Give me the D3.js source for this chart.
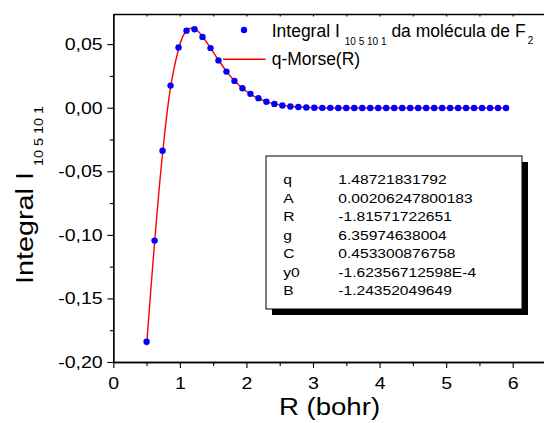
<!DOCTYPE html>
<html><head><meta charset="utf-8">
<script src="https://cdn.jsdelivr.net/npm/d3@7"></script>
<style>body{margin:0;background:#fff} svg{display:block;font-family:"Liberation Sans",Arial,sans-serif}</style>
</head><body>
<svg id="c" width="544" height="423"></svg>
<script>
// ---- data ----
const rValues = [0.50,0.62,0.74,0.86,0.98,1.10,1.22,1.34,1.46,1.58,1.70,1.82,1.94,2.06,2.18,2.30,2.42,2.54,2.66,2.78,2.90,3.02,3.14,3.26,3.38,3.50,3.62,3.74,3.86,3.98,4.10,4.22,4.34,4.46,4.58,4.70,4.82,4.94,5.06,5.18,5.30,5.42,5.54,5.66,5.78,5.90];
const integralValues = [-0.1840,-0.1045,-0.0339,0.0174,0.0473,0.0606,0.0617,0.0557,0.0469,0.0372,0.0284,0.0211,0.0153,0.0109,0.0075,0.0047,0.0030,0.0017,0.0009,0.0005,0.0002,0.0000,-0.0001,-0.0001,-0.0002,-0.0002,-0.0002,-0.0002,-0.0002,-0.0002,-0.0002,-0.0002,-0.0002,-0.0002,-0.0002,-0.0002,-0.0002,-0.0002,-0.0002,-0.0002,-0.0002,-0.0002,-0.0002,-0.0002,-0.0002,-0.0002];
const fitR = [0.50,0.62,0.74,0.86,0.98,1.04,1.10,1.16,1.22,1.28,1.34,1.46,1.58,1.70,1.82,1.94,2.06,2.18,2.30,2.42,2.54,2.66,2.78,3.02,3.50,5.90];
const fitI = [-0.1870,-0.1060,-0.0360,0.0160,0.0460,0.0555,0.0605,0.0625,0.0622,0.0598,0.0560,0.0470,0.0375,0.0286,0.0212,0.0153,0.0107,0.0073,0.0048,0.0030,0.0018,0.0010,0.0005,0.0000,-0.0002,-0.0002];
const xTicks = [0,1,2,3,4,5,6];
const yTicks = [-0.20,-0.15,-0.10,-0.05,0.00,0.05];
const paramNames = ["q","A","R","g","C","y0","B"];
const paramValues = ["1.48721831792","0.00206247800183","-1.81571722651","6.35974638004","0.453300876758","-1.62356712598E-4","-1.24352049649"];

// ---- chart ----
const svg = d3.select("#c");
const L = 113.3, T = 14, B = 362, Rr = 546;
const x = d3.scaleLinear().domain([0, 6.5]).range([L, Rr]);
const y = d3.scaleLinear().domain([-0.2, 0.0737]).range([B, T]);
const fmt = v => (v < -1e-9 ? "-" : "") + Math.abs(v).toFixed(2).replace(".", ",");

// minor ticks
const xMinor = d3.range(0.5, 6.5, 1);
const yMinor = [-0.175,-0.125,-0.075,-0.025,0.025];
const xTop = d3.range(0, 6.51, 0.5);

const gMinX = svg.append("g").attr("transform", `translate(0,${B})`)
  .call(d3.axisBottom(x).tickValues(xMinor).tickSize(4).tickFormat("").tickSizeOuter(0));
const gMinY = svg.append("g").attr("transform", `translate(${L},0)`)
  .call(d3.axisLeft(y).tickValues(yMinor).tickSize(3.5).tickFormat("").tickSizeOuter(0));
const gTop = svg.append("g").attr("transform", `translate(0,${T})`)
  .call(d3.axisTop(x).tickValues(xTop).tickSize(-2.5).tickFormat("").tickSizeOuter(0));

const gx = svg.append("g").attr("transform", `translate(0,${B})`)
  .call(d3.axisBottom(x).tickValues(xTicks).tickSize(6).tickPadding(8.5).tickFormat(d3.format("d")).tickSizeOuter(0));
const gy = svg.append("g").attr("transform", `translate(${L},0)`)
  .call(d3.axisLeft(y).tickValues(yTicks).tickSize(6).tickPadding(4.6).tickFormat(fmt).tickSizeOuter(0));

[gMinX, gMinY, gTop, gx, gy].forEach(g => {
  g.selectAll("path.domain").attr("stroke", "#000").attr("stroke-width", 1.3);
  g.selectAll("line").attr("stroke", "#000").attr("stroke-width", 1.1);
});
gx.selectAll("text").attr("font-size", 17).attr("fill", "#000").attr("font-family", "Liberation Sans, Arial, sans-serif")
  .each(function(){ const t = d3.select(this); const yy = +t.attr("y"); t.attr("y", 0).attr("transform", `translate(0,${yy}) scale(1.15,1)`); });
gy.selectAll("text").attr("font-size", 17).attr("fill", "#000").attr("font-family", "Liberation Sans, Arial, sans-serif")
  .each(function(){ const t = d3.select(this); const xx = +t.attr("x"); t.attr("x", 0).attr("transform", `translate(${xx},0) scale(1.15,1)`); });

// fit curve
const line = d3.line().x((d,i) => x(fitR[i])).y(d => y(d)).curve(d3.curveCatmullRom.alpha(0.5));
svg.append("path").datum(fitI).attr("d", line).attr("fill", "none").attr("stroke", "#ff0000").attr("stroke-width", 1.4);

// points
svg.append("g").selectAll("circle").data(integralValues).join("circle")
  .attr("cx", (d,i) => x(rValues[i])).attr("cy", d => y(d)).attr("r", 3.2).attr("fill", "#0000ff");

// axis titles
const yt = svg.append("text").attr("transform", "translate(32.5,195) rotate(-90) scale(1.2,1)")
  .attr("text-anchor", "middle").attr("fill", "#000");
yt.append("tspan").attr("font-size", 24).text("Integral I");
yt.append("tspan").attr("font-size", 12).attr("dx", 5).attr("dy", 10).text("10 5 10 1");

svg.append("text").attr("transform", "translate(329.5,415) scale(1.15,1)").attr("text-anchor", "middle")
  .attr("font-size", 24).attr("fill", "#000").text("R (bohr)");

// legend
svg.append("circle").attr("cx", 244).attr("cy", 30).attr("r", 3.2).attr("fill", "#0000ff");
const lt = svg.append("text").attr("x", 271.7).attr("y", 36.7).attr("font-size", 17.5).attr("fill", "#000");
lt.append("tspan").text("Integral I");
lt.append("tspan").attr("font-size", 10).attr("dx", 5).attr("dy", 8).text("10 5 10 1");
lt.append("tspan").attr("dy", -8).text(" da molécula de F");
lt.append("tspan").attr("font-size", 10).attr("dx", 2).attr("dy", 7).text("2");
svg.append("line").attr("x1", 223).attr("x2", 265.7).attr("y1", 59.3).attr("y2", 59.3).attr("stroke", "#ff0000").attr("stroke-width", 1.4);
svg.append("text").attr("x", 271.7).attr("y", 65).attr("font-size", 17.5).attr("fill", "#000").text("q-Morse(R)");

// parameter box
const bx = 266, by = 156, bw = 256, bh = 153, sh = 6;
svg.append("rect").attr("x", bx + sh).attr("y", by + sh).attr("width", bw).attr("height", bh).attr("fill", "#000");
svg.append("rect").attr("x", bx).attr("y", by).attr("width", bw).attr("height", bh).attr("fill", "#fff").attr("stroke", "#000").attr("stroke-width", 1);
const rows = svg.append("g").selectAll("g").data(paramNames).join("g")
  .attr("transform", (d,i) => `translate(0,${184 + i * 18.5})`);
rows.append("text").attr("transform", "translate(283.3,0) scale(1.2,1)").attr("font-size", 13).attr("fill", "#000").text(d => d);
rows.append("text").attr("transform", "translate(338.3,0) scale(1.2,1)").attr("font-size", 13).attr("fill", "#000").text((d,i) => paramValues[i]);
</script>
</body></html>
